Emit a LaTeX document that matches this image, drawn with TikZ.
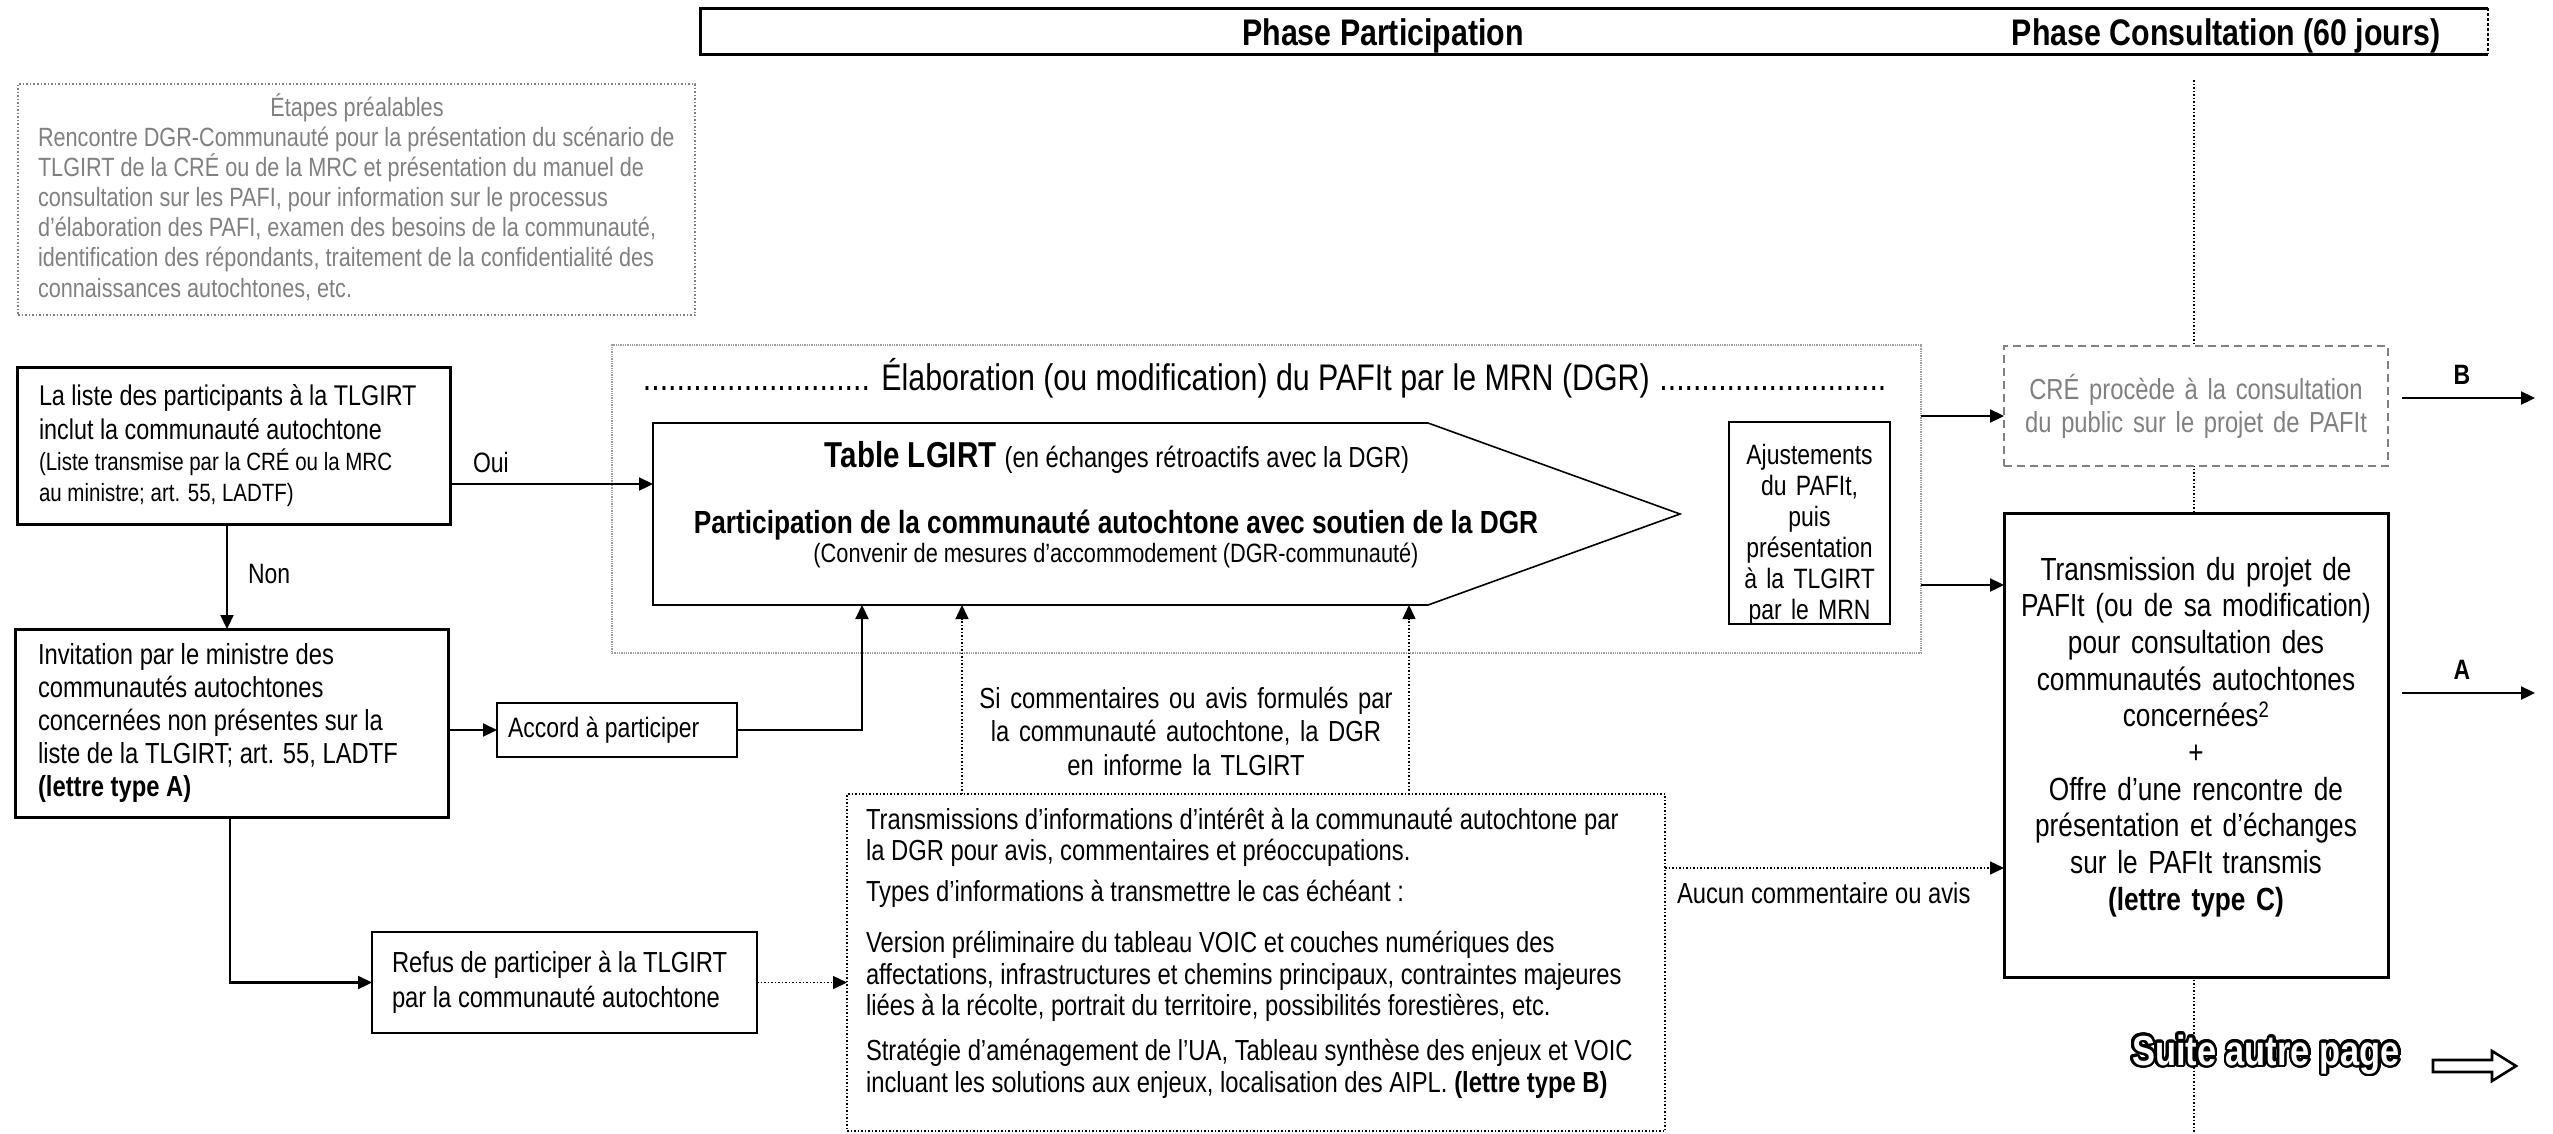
\documentclass[tikz,border=0pt]{standalone}
\usepackage{fontspec}
\setmainfont{Liberation Sans}[FakeStretch=0.82]
\usepackage[copies]{contour}
\usetikzlibrary{arrows.meta,calc}
\newcommand\setfs[2]{\fontsize{#1pt}{#2pt}\selectfont}
\newcommand\dotlead{\leaders\hbox to 8.4pt{\hss.\hss}\hfill}
\definecolor{txtgray}{gray}{0.5}
\definecolor{linegray}{gray}{0.62}
\contourlength{2.5pt}
\contournumber{32}
\tikzset{
  every node/.style={inner sep=0pt, outer sep=0pt},
  arr/.style={-{Triangle[length=14pt,width=13pt]}, line width=2.2pt},
  darr/.style={-{Triangle[length=14pt,width=13pt]}, line width=1.5pt, dotted},
  boxthick/.style={draw, line width=3pt, fill=white},
  boxmid/.style={draw, line width=2.4pt, fill=white},
  boxthin/.style={draw, line width=1.5pt, fill=white},
  bodyfont/.style={font=\setfs{29}{33}},
}
\begin{document}
\begin{tikzpicture}[x=1pt,y=-1pt]
\useasboundingbox (0,0) rectangle (2553,1133);
\fill[white] (0,0) rectangle (2553,1133);

% vertical phase separator
\coordinate (vt) at (2194,80);
\coordinate (vb) at (2194,1133);
\draw[line width=1.5pt, dotted] (vt) -- (vb);

% header
\node[minimum width=1788pt, minimum height=46pt] (hdr) at (1594,31) {};
\draw[line width=3pt] (hdr.north east) -- (hdr.north west) -- (hdr.south west) -- (hdr.south east);
\draw[line width=1.5pt, densely dashed] (hdr.north east) -- (hdr.south east);
\node[anchor=base, font=\bfseries\setfs{37}{40}] (php) at (1383,45) {Phase Participation};
\node[anchor=base, font=\bfseries\setfs{37}{40}] (phc) at (2226,45) {Phase Consultation (60 jours)};

% Etapes prealables
\node[draw=txtgray, dotted, line width=1.5pt, minimum width=677pt, minimum height=231pt] (etap) at (356.5,199.5) {};
\node[anchor=base, text=txtgray, font=\setfs{26.4}{30.2}] (etapt) at (357,116) {Étapes préalables};
\node[anchor=base west, text width=760pt, align=flush left, text=txtgray, font=\setfs{26.4}{30.2}] (etapb) at (38,146)
 {\mbox{Rencontre DGR-Communauté pour la présentation du scénario de}\\
  \mbox{TLGIRT de la CRÉ ou de la MRC et présentation du manuel de}\\
  \mbox{consultation sur les PAFI, pour information sur le processus}\\
  \mbox{d’élaboration des PAFI, examen des besoins de la communauté,}\\
  \mbox{identification des répondants, traitement de la confidentialité des}\\
  \mbox{connaissances autochtones, etc.}};

% Elaboration zone
\node[draw=linegray, densely dotted, line width=1.3pt, minimum width=1309pt, minimum height=308pt] (elab) at (1266.5,499) {};
\node[anchor=base, font=\setfs{37}{40}] (elabt) at (1265.5,390)
 {\hbox to 1245pt{\dotlead\ Élaboration (ou modification) du PAFIt par le MRN (DGR)\ \dotlead}};

% pentagon
\node[minimum width=1027pt, minimum height=182pt] (pent) at (1166.5,514) {};
\draw[line width=1.6pt] (pent.north west) -- ([xshift=-252pt]pent.north east) -- (pent.east)
  -- ([xshift=-252pt]pent.south east) -- (pent.south west) -- cycle;
\node[anchor=base] (tlg) at (1117,467) {\bfseries\setfs{36}{40}Table LGIRT \mdseries\setfs{29}{33}(en échanges rétroactifs avec la DGR)};
\node[anchor=base, font=\bfseries\setfs{32}{36}] (part) at (1116,533) {Participation de la communauté autochtone avec soutien de la DGR};
\node[anchor=base, font=\setfs{26.5}{30}] (conv) at (1116,562) {(Convenir de mesures d’accommodement (DGR-communauté)};

% Ajustements
\node[boxthin, minimum width=161pt, minimum height=202pt] (ajust) at (1809.5,523) {};
\node[anchor=base, text width=160pt, align=center, font=\setfs{28}{31.1}] (ajustt) at (1809.5,464)
 {Ajustements\\du PAFIt,\\puis\\présentation\\à la TLGIRT\\par le MRN};

% left column
\node[boxthick, minimum width=433pt, minimum height=157pt, text width=389pt, align=flush left] (liste) at (233.5,445.5)
 {{\setfs{28.5}{34}\mbox{La liste des participants à la TLGIRT}\\\mbox{inclut la communauté autochtone}\par}
  {\setfs{25}{31}\mbox{(Liste transmise par la CRÉ ou la MRC}\\\mbox{au ministre; art. 55, LADTF)}\par}};
\node[boxthick, minimum width=433pt, minimum height=188pt, text width=387pt, align=flush left, bodyfont] (invit) at (231.5,723)
 {\mbox{Invitation par le ministre des}\\\mbox{communautés autochtones}\\\mbox{concernées non présentes sur la}\\\mbox{liste de la TLGIRT; art. 55, LADTF}\\\mbox{\textbf{(lettre type A)}}};
\node[boxmid, minimum width=240pt, minimum height=54pt, text width=218pt, align=flush left, font=\setfs{28}{32}] (accord) at (617,730)
 {\mbox{Accord à participer}};
\node[boxmid, minimum width=385pt, minimum height=101pt, text width=345pt, align=flush left, font=\setfs{29}{35}] (refus) at (564.5,982.5)
 {\mbox{Refus de participer à la TLGIRT}\\\mbox{par la communauté autochtone}};

\node[anchor=base west, font=\setfs{28}{33}] (oui) at (473,472) {Oui};
\node[anchor=base west, font=\setfs{28}{33}] (non) at (248,583) {Non};

% middle bottom
\node[anchor=base, text width=420pt, align=center, font=\setfs{29}{33.5}] (sic) at (1186,708)
 {Si commentaires ou avis formulés par\\la communauté autochtone, la DGR\\en informe la TLGIRT};
\node[draw, dotted, line width=1.5pt, minimum width=818pt, minimum height=337pt] (trbox) at (1256,962.5) {};
\node[anchor=base west, text width=900pt, align=flush left, font=\setfs{29}{31.5}] (trt) at (866,829)
 {\mbox{Transmissions d’informations d’intérêt à la communauté autochtone par}\\
  \mbox{la DGR pour avis, commentaires et préoccupations.}\\[9.5pt]
  \mbox{Types d’informations à transmettre le cas échéant~:}\\[19.5pt]
  \mbox{Version préliminaire du tableau VOIC et couches numériques des}\\
  \mbox{affectations, infrastructures et chemins principaux, contraintes majeures}\\
  \mbox{liées à la récolte, portrait du territoire, possibilités forestières, etc.}\\[13.5pt]
  \mbox{Stratégie d’aménagement de l’UA, Tableau synthèse des enjeux et VOIC}\\
  \mbox{incluant les solutions aux enjeux, localisation des AIPL. \textbf{(lettre type B)}}};
\node[anchor=base west, font=\setfs{29}{33}] (auc) at (1677,903) {Aucun commentaire ou avis};

% right column
\node[draw=txtgray, line width=2.2pt, dash pattern=on 8pt off 5pt, fill=white, minimum width=384pt, minimum height=120pt,
      text width=370pt, align=center, text=txtgray, font=\setfs{29}{33}] (cre) at (2196,406)
 {CRÉ procède à la consultation\\du public sur le projet de PAFIt};
\node[boxthick, minimum width=384pt, minimum height=464pt] (trans) at (2196,745) {};
\node[anchor=base, text width=380pt, align=center, font=\setfs{32}{36.7}] (transt) at (2196,580)
 {Transmission du projet de\\PAFIt (ou de sa modification)\\pour consultation des\\communautés autochtones\\concernées\textsuperscript{2}\\+\\Offre d’une rencontre de\\présentation et d’échanges\\sur le PAFIt transmis\\\textbf{(lettre type C)}};

\node[anchor=base, font=\bfseries\setfs{28}{30}] (lb) at (2462,384) {B};
\node[anchor=base, font=\bfseries\setfs{28}{30}] (la) at (2462,679) {A};
\coordinate (bs) at (2402,398); \coordinate (be) at (2535,398);
\coordinate (as) at (2402,693); \coordinate (ae) at (2535,693);
\draw[arr] (bs) -- (be);
\draw[arr] (as) -- (ae);

% suite autre page
\node[anchor=base, text=white, font=\bfseries\setfs{42}{46}] (suite) at (2266,1065) {\contour{black}{Suite autre page}};
\draw[line width=2.6pt, fill=white, line join=miter] (2433,1060) -- (2492,1060) -- (2492,1051) -- (2516,1066)
  -- (2492,1081) -- (2492,1072) -- (2433,1072) -- cycle;

% connectors
\draw[arr] (liste.east |- 0,484) -- (pent.west |- 0,484);
\draw[arr] (liste.south -| 227,0) -- (invit.north -| 227,0);
\draw[arr] (invit.east |- accord.west) -- (accord.west);
\draw[arr] (accord.east) -| ([xshift=209pt]pent.south west);
\draw[arr] (invit.south -| 230,0) |- (refus.west);
\draw[darr] (refus.east) -- (refus.east -| trbox.west);
\draw[darr] (trbox.north -| 962,0) -- (pent.south -| 962,0);
\draw[darr] (trbox.north -| 1409,0) -- (pent.south -| 1409,0);
\draw[darr] (trbox.east |- 0,868) -- (trans.west |- 0,868);
\draw[arr] (elab.east |- 0,416) -- (cre.west |- 0,416);
\draw[arr] (elab.east |- 0,585) -- (trans.west |- 0,585);
\end{tikzpicture}
\end{document}
